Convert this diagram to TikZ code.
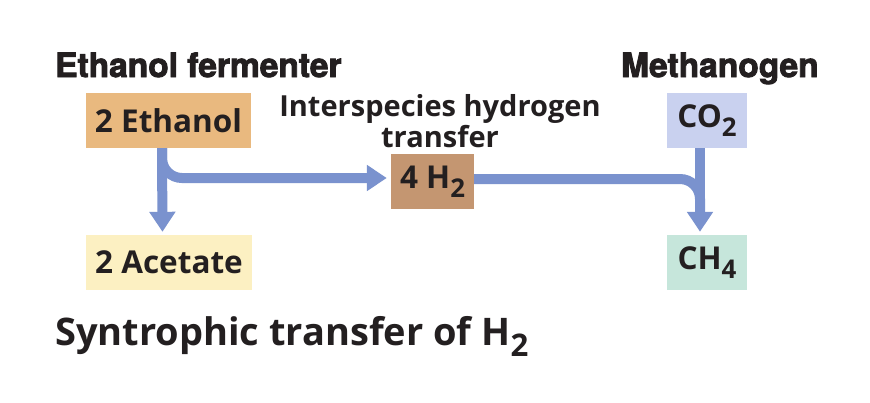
\documentclass[tikz,border=0pt]{standalone}
\usepackage{fontspec}
\setmainfont{Open Sans}
\newfontfamily\headfont{texgyreheros-bold.otf}[FakeBold=2.6]
\usetikzlibrary{arrows.meta}
\definecolor{txt}{HTML}{231F20}
\definecolor{flowc}{HTML}{7A92CE}
\definecolor{ethc}{HTML}{E9B97F}
\definecolor{acec}{HTML}{FCF0C2}
\definecolor{htwoc}{HTML}{C49671}
\definecolor{coc}{HTML}{C9D1EF}
\definecolor{chc}{HTML}{C6E6DB}
\newcommand\sbs[1]{\raisebox{-0.3em}{\scalebox{0.82}{#1}}}
\tikzset{
  box/.style={rectangle, inner sep=0pt, minimum height=55pt, text=txt, font=\bfseries\fontsize{31.5}{36}\selectfont},
  head/.style={text=txt, inner sep=0pt, anchor=base west, font=\headfont\fontsize{33.5}{38}\selectfont},
  flow/.style={draw=flowc, line width=10pt, -{Triangle[width=25pt,length=20pt]}},
  flowline/.style={draw=flowc, line width=10pt},
}
\begin{document}
\begin{tikzpicture}[x=1pt,y=-1pt]
\useasboundingbox[fill=white] (0,0) rectangle (870,402);
% boxes
\node[box, fill=ethc, minimum width=165pt] (eth) at (168.5,120.5) {2 Ethanol};
\node[box, fill=acec, minimum width=166pt] (ace) at (169,262.5) {2 Acetate};
\node[box, fill=htwoc, minimum width=83pt] (h2) at (432.5,181.5) {4 H\sbs{2}};
\node[box, fill=coc, minimum width=80pt] (co2) at (707,120.5) {CO\sbs{2}};
\node[box, fill=chc, minimum width=80pt] (ch4) at (707,262.5) {CH\sbs{4}};
% headings
\node[head] (hl) at (55,77) {Ethanol fermenter};
\node[head] (hr) at (621,77) {Methanogen};
\node[text=txt, inner sep=0pt, anchor=base, align=center, font=\bfseries\fontsize{29}{25}\selectfont] (ih) at (440,147) {Interspecies hydrogen\\transfer};
\node[text=txt, inner sep=0pt, anchor=base west, font=\bfseries\fontsize{38}{44}\selectfont] (title) at (55,345) {Syntrophic transfer of H\sbs{2}};
% connectors
\draw[flow, shorten >=3pt] ([xshift=-6.5pt]eth.south) -- ([xshift=-6.5pt]ace.north);
\draw[flow, rounded corners=20pt, shorten >=4pt] ([xshift=-6.5pt]eth.south) |- ([yshift=3.5pt]h2.west);
\draw[flowline, rounded corners=20pt] ([yshift=2.5pt]h2.east) -| ([xshift=-7pt,yshift=23pt]ch4.north);
\draw[flow, shorten >=3pt] ([xshift=-7pt]co2.south) -- ([xshift=-7pt]ch4.north);
\end{tikzpicture}
\end{document}
